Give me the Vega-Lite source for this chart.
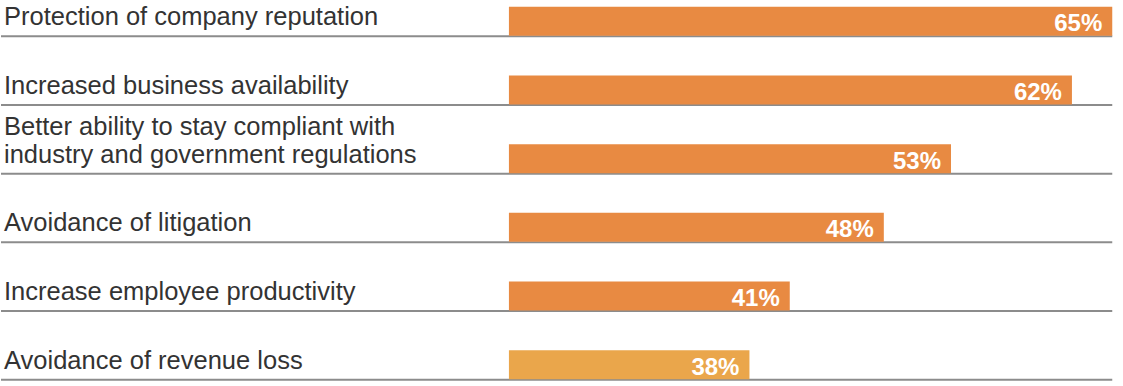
{
  "$schema": "https://vega.github.io/schema/vega-lite/v6.json",
  "width": 1123,
  "height": 386,
  "autosize": {"type": "fit", "contains": "padding"},
  "padding": 0,
  "background": "white",
  "config": {"view": {"stroke": null}},
  "data": {
    "values": [
      {"category": "Protection of company reputation", "line1": "", "line2": "Protection of company reputation", "value": 65, "pct": "65%", "group": "main"},
      {"category": "Increased business availability", "line1": "", "line2": "Increased business availability", "value": 62, "pct": "62%", "group": "main"},
      {"category": "Better ability to stay compliant with industry and government regulations", "line1": "Better ability to stay compliant with", "line2": "industry and government regulations", "value": 53, "pct": "53%", "group": "main"},
      {"category": "Avoidance of litigation", "line1": "", "line2": "Avoidance of litigation", "value": 48, "pct": "48%", "group": "main"},
      {"category": "Increase employee productivity", "line1": "", "line2": "Increase employee productivity", "value": 41, "pct": "41%", "group": "main"},
      {"category": "Avoidance of revenue loss", "line1": "", "line2": "Avoidance of revenue loss", "value": 38, "pct": "38%", "group": "other"}
    ]
  },
  "encoding": {
    "y": {
      "field": "category",
      "type": "nominal",
      "sort": null,
      "scale": {"type": "point", "padding": 0.31},
      "axis": null
    }
  },
  "layer": [
    {
      "mark": {"type": "rule", "stroke": "#8c8c8c", "strokeWidth": 2, "yOffset": 15},
      "encoding": {
        "x": {"datum": -17.7, "type": "quantitative", "scale": {"domain": [-17.7, 65.8], "nice": false, "zero": false}, "axis": null},
        "x2": {"datum": 65}
      }
    },
    {
      "mark": {"type": "bar", "height": 29},
      "encoding": {
        "x": {"field": "value", "type": "quantitative"},
        "x2": {"datum": 20.1},
        "color": {
          "field": "group",
          "type": "nominal",
          "scale": {"domain": ["main", "other"], "range": ["#E88A42", "#EAA64B"]},
          "legend": null
        }
      }
    },
    {
      "mark": {"type": "text", "align": "right", "baseline": "alphabetic", "dx": -10, "dy": 10, "fontSize": 24, "fontWeight": "bold", "font": "Liberation Sans", "fill": "white"},
      "encoding": {
        "x": {"field": "value", "type": "quantitative"},
        "text": {"field": "pct"}
      }
    },
    {
      "mark": {"type": "text", "align": "left", "baseline": "alphabetic", "dx": 3, "dy": 4, "fontSize": 25.5, "font": "Liberation Sans", "fill": "#333333"},
      "encoding": {
        "x": {"datum": -17.7, "type": "quantitative"},
        "text": {"field": "line2"}
      }
    },
    {
      "transform": [{"filter": "datum.line1 != ''"}],
      "mark": {"type": "text", "align": "left", "baseline": "alphabetic", "dx": 3, "dy": -24, "fontSize": 25.5, "font": "Liberation Sans", "fill": "#333333"},
      "encoding": {
        "x": {"datum": -17.7, "type": "quantitative"},
        "text": {"field": "line1"}
      }
    }
  ]
}
